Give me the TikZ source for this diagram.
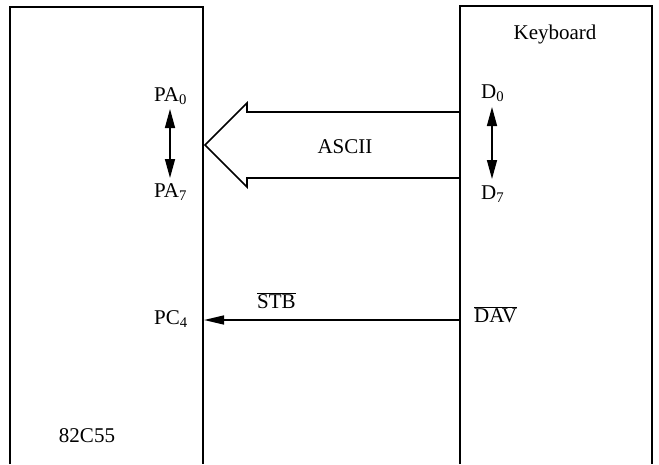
\documentclass[tikz,border=0pt]{standalone}
\usepackage{fontspec}
\setmainfont{Liberation Serif}
\usetikzlibrary{arrows.meta}
\begin{document}
\begin{tikzpicture}[x=1pt,y=-1pt,
  lbl/.style={font=\fontsize{21}{24}\selectfont, inner sep=0pt},
  boxline/.style={line width=2.3pt, line join=miter},
  fat/.style={line width=1.6pt, line join=miter},
  dbl/.style={line width=1.5pt, {Triangle[length=19pt,width=10pt]}-{Triangle[length=19pt,width=10pt]}},
  sig/.style={line width=1.5pt, -{Triangle[length=20pt,width=9pt]}}]
\useasboundingbox (0,0) rectangle (659,464);
% boxes (open at bottom)
\draw[boxline] (10,464) -- (10,7) -- (203,7) -- (203,464);
\draw[boxline] (460,464) -- (460,6) -- (652,6) -- (652,464);
% labels
\node[lbl, anchor=base] (kb) at (555,39) {Keyboard};
\node[lbl, anchor=base] (chip) at (87,442) {82C55};
\node[lbl, anchor=base west] (pa0) at (154,101) {PA\textsubscript{0}};
\node[lbl, anchor=base west] (pa7) at (154,197) {PA\textsubscript{7}};
\node[lbl, anchor=base west] (d0) at (481,98) {D\textsubscript{0}};
\node[lbl, anchor=base west] (d7) at (481,199) {D\textsubscript{7}};
\node[lbl, anchor=base west] (pc4) at (154,324) {PC\textsubscript{4}};
\node[lbl, anchor=base west] (stb) at (257,308) {$\overline{\mbox{STB}}$};
\node[lbl, anchor=base west] (dav) at (474,322) {$\overline{\mbox{DAV}}$};
\node[lbl, anchor=base] (ascii) at (345,153) {ASCII};
% double arrows
\coordinate (la0) at (170,109);
\coordinate (la7) at (170,178);
\coordinate (ra0) at (492,107);
\coordinate (ra7) at (492,179);
\draw[dbl] (la0) -- (la7);
\draw[dbl] (ra0) -- (ra7);
% fat ASCII arrow
\coordinate (st) at (460,112);
\coordinate (sb) at (460,178);
\coordinate (tip) at (205,145);
\draw[fat] (st) -- (247,112) -- (247,103) -- (tip) -- (247,187) -- (247,178) -- (sb);
% strobe
\coordinate (davpt) at (460,320);
\coordinate (pcpt) at (204,320);
\draw[sig] (davpt) -- (pcpt);
\end{tikzpicture}
\end{document}
